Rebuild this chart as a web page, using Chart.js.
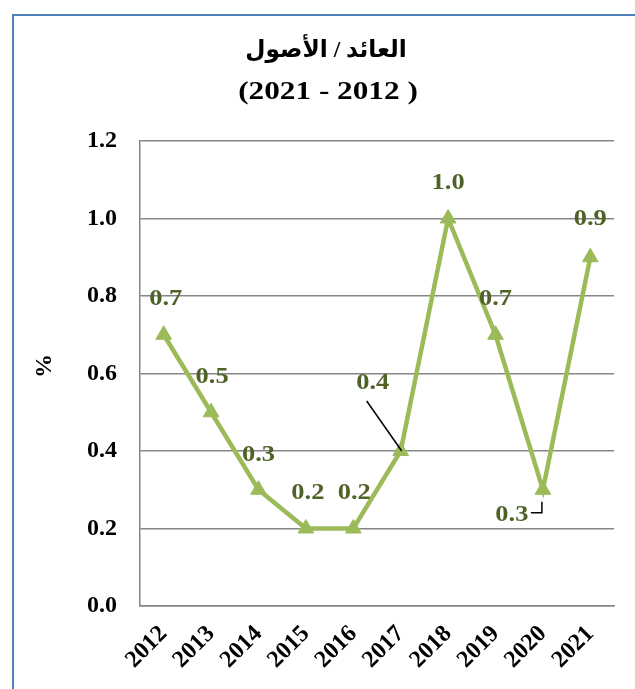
<!DOCTYPE html>
<html>
<head>
<meta charset="utf-8">
<script src="https://cdn.jsdelivr.net/npm/chart.js@4/dist/chart.umd.min.js"></script>
<style>
  html, body { margin: 0; padding: 0; background: #ffffff; }
  #wrap { width: 635px; height: 689px; position: relative; }
</style>
</head>
<body>
<div id="wrap"><canvas id="c" width="635" height="689"></canvas></div>
<script>
const years = ['2012','2013','2014','2015','2016','2017','2018','2019','2020','2021'];
const returnOnAssets = [0.7, 0.5, 0.3, 0.2, 0.2, 0.4, 1.0, 0.7, 0.3, 0.9];
const yTicks = [0.0, 0.2, 0.4, 0.6, 0.8, 1.0, 1.2];
const titleLine1 = 'العائد / الأصول';
const titleLine2 = '(2021 - 2012 )';
const yAxisTitle = '%';

const FONT = '"Liberation Serif", "Times New Roman", "DejaVu Serif", "DejaVu Sans", serif';

// label offsets (relative to each point)
const labelOffsets = [[2,-36],[1,-35],[0,-35],[2,-35],[1,-35],[-28,-68],[0,-35],[0,-36],[-31,25],[0,-38]];

function stretchedText(ctx, text, x, y, sx) {
  ctx.save();
  ctx.translate(x, y);
  ctx.scale(sx, 1);
  ctx.fillText(text, 0, 0);
  ctx.restore();
}

const decorPlugin = {
  id: 'decor',
  beforeDraw(chart) {
    const ctx = chart.ctx;
    ctx.save();
    ctx.fillStyle = '#ffffff';
    ctx.fillRect(0, 0, chart.width, chart.height);
    ctx.strokeStyle = '#4f81bd';
    ctx.lineWidth = 2;
    ctx.beginPath();
    ctx.moveTo(13, chart.height + 2);
    ctx.lineTo(13, 15);
    ctx.lineTo(chart.width + 2, 15);
    ctx.stroke();
    ctx.restore();
  },
  afterDraw(chart) {
    const ctx = chart.ctx;
    ctx.save();
    ctx.fillStyle = '#000000';
    ctx.textAlign = 'center';
    ctx.textBaseline = 'middle';
    ctx.font = 'bold 24px ' + FONT;
    ctx.direction = 'rtl';
    stretchedText(ctx, titleLine1, 326, 51, 0.97);
    ctx.direction = 'ltr';
    ctx.font = 'bold 25px ' + FONT;
    stretchedText(ctx, titleLine2, 328, 93, 1.25);
    ctx.translate(45, 366);
    ctx.rotate(-Math.PI / 2);
    ctx.font = 'bold 24px ' + FONT;
    ctx.fillText(yAxisTitle, 0, 0);
    ctx.restore();
  }
};

const labelPlugin = {
  id: 'pointLabels',
  afterDatasetsDraw(chart) {
    const ctx = chart.ctx;
    const meta = chart.getDatasetMeta(0);
    const ds = chart.data.datasets[0];
    ctx.save();
    ctx.strokeStyle = '#000000';
    ctx.lineWidth = 1.5;
    const p17 = meta.data[5];
    ctx.beginPath();
    ctx.moveTo(p17.x - 34, p17.y - 50);
    ctx.lineTo(p17.x + 1, p17.y);
    ctx.stroke();
    const p20 = meta.data[8];
    ctx.beginPath();
    ctx.moveTo(p20.x - 12, p20.y + 23);
    ctx.lineTo(p20.x - 1, p20.y + 23);
    ctx.lineTo(p20.x - 1, p20.y + 12);
    ctx.stroke();
    ctx.fillStyle = '#4f6228';
    ctx.font = 'bold 23px ' + FONT;
    ctx.textAlign = 'center';
    ctx.textBaseline = 'middle';
    meta.data.forEach((pt, i) => {
      const off = labelOffsets[i];
      stretchedText(ctx, ds.data[i].toFixed(1), pt.x + off[0], pt.y + off[1], 1.15);
    });
    ctx.restore();
  }
};

new Chart(document.getElementById('c'), {
  type: 'line',
  data: {
    labels: years,
    datasets: [{
      data: returnOnAssets,
      borderColor: '#9bbb59',
      backgroundColor: '#9bbb59',
      borderWidth: 4.5,
      pointStyle: 'triangle',
      pointRadius: 9,
      pointHoverRadius: 9,
      pointBorderWidth: 1,
      pointBorderColor: '#9bbb59',
      pointBackgroundColor: '#9bbb59',
      tension: 0,
      fill: false
    }]
  },
  options: {
    responsive: false,
    animation: false,
    devicePixelRatio: 1,
    layout: { padding: { top: 141, left: 0, right: 21, bottom: 0 } },
    plugins: {
      legend: { display: false },
      title: { display: false },
      tooltip: { enabled: false }
    },
    scales: {
      x: {
        type: 'category',
        offset: true,
        grid: { display: false, drawTicks: false },
        border: { display: true, color: '#868686', width: 1.5 },
        ticks: {
          color: '#000000',
          font: { family: FONT, size: 24, weight: 'bold' },
          minRotation: 45,
          maxRotation: 45,
          autoSkip: false,
          padding: 14
        },
        afterFit(scale) { scale.height = 83; }
      },
      y: {
        min: 0,
        max: 1.2,
        afterBuildTicks(scale) { scale.ticks = yTicks.map(v => ({ value: v })); },
        grid: { color: '#868686', lineWidth: 1.5, drawTicks: false },
        border: { display: true, color: '#868686', width: 1.5 },
        ticks: {
          color: '#000000',
          font: { family: FONT, size: 24, weight: 'bold' },
          padding: 23,
          callback: (v) => Number(v).toFixed(1)
        },
        afterFit(scale) { scale.width = 140; }
      }
    }
  },
  plugins: [decorPlugin, labelPlugin]
});
</script>
</body>
</html>
